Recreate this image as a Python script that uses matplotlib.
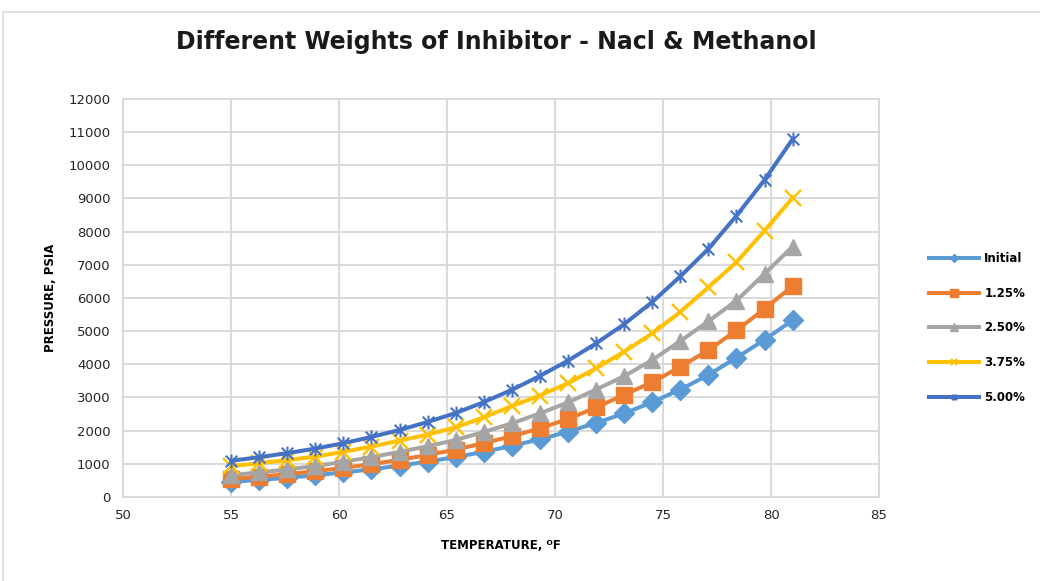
import numpy as np
import matplotlib
matplotlib.use('Agg')
import matplotlib.pyplot as plt
from matplotlib.path import Path
from matplotlib.patches import Rectangle

# temperature points, deg F
temp = [55, 56.3, 57.6, 58.9, 60.2, 61.5, 62.8, 64.1, 65.4, 66.7, 68,
        69.3, 70.6, 71.9, 73.2, 74.5, 75.8, 77.1, 78.4, 79.7, 81]

# hydrate pressure, psia, for each inhibitor weight
initial = [460, 515, 580, 655, 740, 835, 945, 1065, 1205, 1360, 1540,
           1740, 1970, 2230, 2520, 2860, 3240, 3680, 4200, 4740, 5330]
w125 = [545, 612, 690, 778, 878, 990, 1120, 1265, 1430, 1625, 1830,
        2070, 2350, 2700, 3080, 3460, 3920, 4430, 5020, 5670, 6360]
w250 = [660, 740, 830, 935, 1060, 1200, 1360, 1530, 1720, 1960, 2220,
        2520, 2850, 3240, 3640, 4130, 4700, 5300, 5920, 6730, 7550]
w375 = [930, 1020, 1110, 1220, 1360, 1520, 1700, 1880, 2100, 2400, 2740,
        3060, 3430, 3880, 4380, 4930, 5580, 6320, 7080, 8030, 9020]
w500 = [1090, 1200, 1320, 1460, 1620, 1810, 2020, 2260, 2530, 2860, 3230,
        3650, 4110, 4630, 5210, 5880, 6650, 7480, 8480, 9560, 10790]

labels = ['Initial', '1.25%', '2.50%', '3.75%', '5.00%']
colors = ['#5B9BD5', '#ED7D31', '#A5A5A5', '#FFC000', '#4472C4']

# excel style star: an x with a vertical bar
star = Path([(-1, -1), (1, 1), (-1, 1), (1, -1), (0, -1.2), (0, 1.2)],
            [Path.MOVETO, Path.LINETO, Path.MOVETO, Path.LINETO, Path.MOVETO, Path.LINETO])

plt.rcParams['font.family'] = ['DejaVu Sans']

fig = plt.figure(figsize=(10.4, 5.81), dpi=100)
ax = fig.add_axes([0.1183, 0.1446, 0.7269, 0.685])

series = [initial, w125, w250, w375, w500]
styles = [dict(marker='D', ms=10),
          dict(marker='s', ms=11.5),
          dict(marker='^', ms=12),
          dict(marker='x', ms=11, mew=1.7),
          dict(marker=star, ms=10, mew=1.5, mfc='none')]

for y, lab, c, st in zip(series, labels, colors, styles):
    ax.plot(temp, y, color=c, lw=2.9, label=lab, **st)

ax.set_xlim(50, 85)
ax.set_ylim(0, 12000)
ax.set_xticks(np.arange(50, 86, 5))
ax.set_yticks(np.arange(0, 12001, 1000))
ax.grid(True, color='#D9D9D9', lw=1.4)
ax.set_axisbelow(True)
for s in ax.spines.values():
    s.set_color('#D9D9D9')
    s.set_linewidth(1.4)
ax.tick_params(length=0, labelsize=9.5, labelcolor='#262626', pad=9)

ax.set_xlabel('TEMPERATURE, ᴼF', fontsize=8.5, fontweight='bold', labelpad=12)
ax.set_ylabel('PRESSURE, PSIA', fontsize=8.5, fontweight='bold', labelpad=8)

fig.text(0.477, 0.927, 'Different Weights of Inhibitor - Nacl & Methanol',
         ha='center', va='center', fontsize=17, fontweight='bold', color='#1a1a1a')

fig.legend(loc='center left', bbox_to_anchor=(0.893, 0.4355), frameon=False,
           prop={'weight': 'bold', 'size': 8.5},
           handlelength=4.3, handletextpad=0.4, labelspacing=1.85,
           markerscale=0.45, borderaxespad=0, borderpad=0)

# chart area border
fig.patches.append(Rectangle((3 / 1040, -0.1), 2, 1.1 - 12 / 581, transform=fig.transFigure,
                             fill=False, edgecolor='#D9D9D9', lw=1.2))

fig.savefig('out.png', dpi=100)
